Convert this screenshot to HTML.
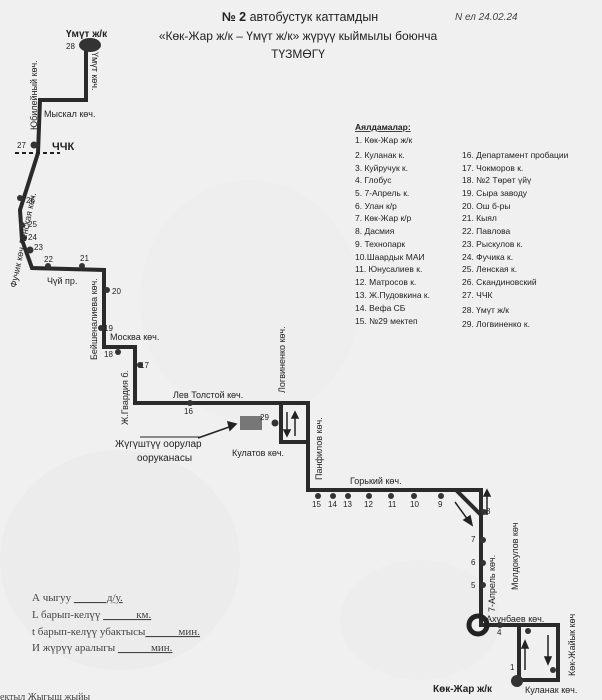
<!DOCTYPE html>
<html><head><meta charset="utf-8"><style>
body{margin:0;width:602px;height:700px;overflow:hidden;background:#f1f1f1;font-family:"Liberation Sans",sans-serif;}
svg{position:absolute;left:0;top:0}
</style></head><body>
<svg width="602" height="700" viewBox="0 0 602 700" font-family="Liberation Sans, sans-serif" fill="#222">
<rect width="602" height="700" fill="#f0f0f0"/>
<ellipse cx="120" cy="560" rx="120" ry="110" fill="#e8e8e8" opacity=".5"/>
<ellipse cx="250" cy="300" rx="110" ry="120" fill="#eaeaea" opacity=".4"/>
<ellipse cx="420" cy="620" rx="80" ry="60" fill="#e8e8e8" opacity=".4"/>
<!-- title -->
<text x="300" y="21" font-size="12.5" text-anchor="middle"><tspan font-weight="bold">№ 2</tspan> автобустук каттамдын</text>
<text x="298" y="40" font-size="12" text-anchor="middle">«Көк-Жар ж/к – Үмүт ж/к»  жүрүү кыймылы боюнча</text>
<text x="298" y="58" font-size="12" text-anchor="middle">ТҮЗМӨГҮ</text>
<text x="455" y="20" font-size="10" font-style="italic" fill="#444">N ел   24.02.24</text>
<!-- route -->
<g fill="none" stroke="#2a2a2a" stroke-width="4" stroke-linejoin="miter">
<polyline points="86,45 86,100 40,100 38,153 20,210 22,240 32,268 104,270 104,347 135,347 135,403 308,403 308,490 481,490 481,625 558,625 558,680 517,680"/>
<polyline points="281,405 281,442 308,442"/>
<polyline points="519,627 519,680"/>
<polyline points="456,490 481,515"/>
</g>
<ellipse cx="90" cy="45" rx="11" ry="7" fill="#333"/>
<circle cx="478" cy="625" r="9" fill="none" stroke="#222" stroke-width="5"/>
<circle cx="517" cy="681" r="6" fill="#333"/>
<line x1="15" y1="153" x2="60" y2="153" stroke="#222" stroke-width="2" stroke-dasharray="4,3"/>
<!-- arrows -->
<g stroke="#222" stroke-width="1.5" fill="#222">
<line x1="287" y1="412" x2="287" y2="432"/><polygon points="284,430 290,430 287,436"/>
<line x1="295" y1="436" x2="295" y2="416"/><polygon points="292,418 298,418 295,412"/>
<line x1="487" y1="515" x2="487" y2="493"/><polygon points="484,496 490,496 487,490"/>
<line x1="455" y1="502" x2="468" y2="520"/><polygon points="464,520 470,516 472,525"/>
<line x1="525" y1="670" x2="525" y2="645"/><polygon points="522,648 528,648 525,641"/>
<line x1="548" y1="635" x2="548" y2="660"/><polygon points="545,657 551,657 548,664"/>
<line x1="198" y1="438" x2="232" y2="426"/><polygon points="228,422 236,424 230,430"/>
</g>
<line x1="140" y1="437" x2="200" y2="437" stroke="#222" stroke-width="1"/>
<rect x="240" y="416" width="22" height="14" fill="#777"/>
<!-- stops -->
<g fill="#333">
<circle cx="34" cy="145" r="3.5"/><circle cx="20" cy="198" r="3"/><circle cx="22" cy="225" r="3"/>
<circle cx="24" cy="238" r="3"/><circle cx="30" cy="250" r="3.5"/><circle cx="48" cy="266" r="3"/><circle cx="82" cy="266" r="3"/>
<circle cx="107" cy="290" r="3"/><circle cx="101" cy="328" r="3"/><circle cx="118" cy="352" r="3"/><circle cx="140" cy="365" r="3"/>
<circle cx="190" cy="403" r="3"/><circle cx="275" cy="423" r="3.5"/>
<circle cx="318" cy="496" r="3"/><circle cx="333" cy="496" r="3"/><circle cx="348" cy="496" r="3"/><circle cx="369" cy="496" r="3"/><circle cx="391" cy="496" r="3"/><circle cx="414" cy="496" r="3"/><circle cx="441" cy="496" r="3"/>
<circle cx="484" cy="512" r="3"/><circle cx="483" cy="540" r="3"/><circle cx="483" cy="563" r="3"/><circle cx="483" cy="585" r="3"/>
<circle cx="500" cy="625" r="3"/><circle cx="528" cy="631" r="3"/><circle cx="553" cy="670" r="3"/>
</g>
<g font-size="8">
<text x="66" y="49">28</text><text x="17" y="148">27</text><text x="26" y="203">26</text><text x="28" y="227">25</text>
<text x="28" y="240">24</text><text x="34" y="250">23</text><text x="44" y="262">22</text><text x="80" y="261">21</text>
<text x="112" y="294">20</text><text x="104" y="331">19</text><text x="104" y="357">18</text><text x="140" y="368">17</text>
<text x="184" y="414">16</text><text x="260" y="420">29</text>
<text x="312" y="507">15</text><text x="328" y="507">14</text><text x="343" y="507">13</text><text x="364" y="507">12</text><text x="388" y="507">11</text><text x="410" y="507">10</text><text x="438" y="507">9</text>
<text x="486" y="514">8</text><text x="471" y="542">7</text><text x="471" y="565">6</text><text x="471" y="588">5</text><text x="497" y="635">4</text><text x="510" y="670">1</text>
</g>
<!-- street labels -->
<g font-size="9">
<text x="66" y="37" font-weight="bold" font-size="10">Үмүт ж/к</text>
<text x="92" y="52" transform="rotate(90 92 52)">Үмүт көч.</text>
<text x="44" y="117">Мыскал көч.</text>
<text x="37" y="130" transform="rotate(-90 37 130)">Юбилейный көч.</text>
<text x="52" y="150" font-size="11" font-weight="bold">ЧЧК</text>
<text x="16" y="288" transform="rotate(-78 16 288)">Фучик көч.Ленская көч.</text>
<text x="47" y="284">Чүй пр.</text>
<text x="97" y="360" transform="rotate(-90 97 360)">Бейшеналиева көч.</text>
<text x="110" y="340">Москва көч.</text>
<text x="128" y="425" transform="rotate(-90 128 425)">Ж.Гвардия б.</text>
<text x="173" y="398">Лев Толстой көч.</text>
<text x="285" y="393" transform="rotate(-90 285 393)">Логвиненко көч.</text>
<text x="322" y="480" transform="rotate(-90 322 480)">Панфилов көч.</text>
<text x="232" y="456">Кулатов көч.</text>
<text x="115" y="447" font-size="10">Жүгүштүү оорулар</text>
<text x="137" y="461" font-size="10">ооруканасы</text>
<text x="350" y="484">Горький көч.</text>
<text x="495" y="612" transform="rotate(-90 495 612)">7-Апрель көч.</text>
<text x="518" y="590" transform="rotate(-90 518 590)">Молдокулов көч</text>
<text x="486" y="622">Ахунбаев көч.</text>
<text x="575" y="676" transform="rotate(-90 575 676)">Көк-Жайык көч</text>
<text x="433" y="692" font-weight="bold" font-size="10">Көк-Жар ж/к</text>
<text x="525" y="693">Куланак көч.</text>
</g>
<!-- legend -->
<g font-size="8.5">
<text x="355" y="130" font-weight="bold" text-decoration="underline">Аялдамалар:</text>
<text x="355" y="143">1. Көк-Жар ж/к</text>
<text x="355" y="158">2. Куланак к.</text>
<text x="355" y="171">3. Куйручук к.</text>
<text x="355" y="183">4. Глобус</text>
<text x="355" y="196">5. 7-Апрель к.</text>
<text x="355" y="209">6. Улан к/р</text>
<text x="355" y="221">7. Көк-Жар к/р</text>
<text x="355" y="234">8. Дасмия</text>
<text x="355" y="247">9. Технопарк</text>
<text x="355" y="260">10.Шаардык МАИ</text>
<text x="355" y="272">11. Юнусалиев к.</text>
<text x="355" y="285">12. Матросов к.</text>
<text x="355" y="298">13. Ж.Пудовкина к.</text>
<text x="355" y="311">14. Вефа СБ</text>
<text x="355" y="324">15. №29 мектеп</text>
<text x="462" y="158">16. Департамент пробации</text>
<text x="462" y="171">17. Чокморов к.</text>
<text x="462" y="183">18. №2 Төрөт үйү</text>
<text x="462" y="196">19. Сыра заводу</text>
<text x="462" y="209">20. Ош б-ры</text>
<text x="462" y="221">21. Кыял</text>
<text x="462" y="234">22. Павлова</text>
<text x="462" y="247">23. Рыскулов к.</text>
<text x="462" y="260">24. Фучика к.</text>
<text x="462" y="272">25. Ленская к.</text>
<text x="462" y="285">26. Скандиновский</text>
<text x="462" y="298">27. ЧЧК</text>
<text x="462" y="313">28. Үмүт ж/к</text>
<text x="462" y="327">29. Логвиненко к.</text>
</g>
<!-- bottom-left -->
<g font-family="Liberation Serif, serif" font-size="11" fill="#444">
<text x="32" y="601">А чыгуу <tspan text-decoration="underline">______д/у.</tspan></text>
<text x="32" y="618">L барып-келүү <tspan text-decoration="underline">______км.</tspan></text>
<text x="32" y="635">t барып-келүү убактысы<tspan text-decoration="underline">______мин.</tspan></text>
<text x="32" y="651">И жүрүү аралыгы  <tspan text-decoration="underline">______мин.</tspan></text>
<text x="0" y="700" font-size="10">ектыл  Жыгыш  жыйы</text>
</g>
</svg>
</body></html>
